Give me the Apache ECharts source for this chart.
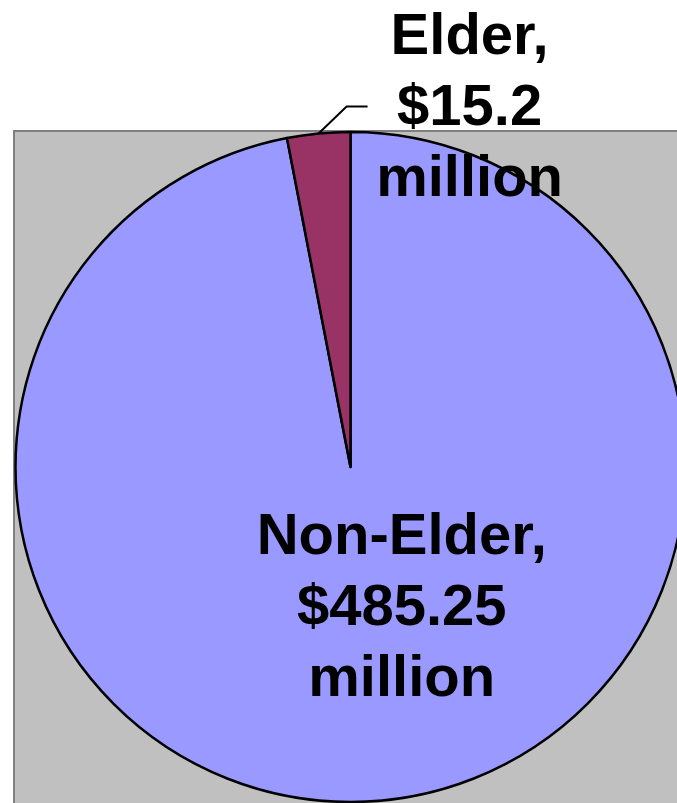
<!DOCTYPE html>
<html>
<head>
<meta charset="utf-8">
<title>Elder vs Non-Elder</title>
<script src="https://cdn.jsdelivr.net/npm/echarts@6/dist/echarts.min.js"></script>
<style>
  html, body { margin: 0; padding: 0; background: #ffffff; }
  #chart { width: 677px; height: 803px; }
</style>
</head>
<body>
<div id="chart"></div>
<script>
// Spending split, in millions of dollars
const categories = ['Non-Elder', 'Elder'];
const valuesMillions = [485.25, 15.2];
const sliceColors = ['#9999FF', '#993366'];

const pieData = categories.map(function (name, i) {
  return { name: name, value: valuesMillions[i], itemStyle: { color: sliceColors[i] } };
});

// Non-Elder sits inside its slice; Elder is pulled out with a leader line
pieData[0].label = { position: 'inside', offset: [35, -28] };
pieData[1].label = { position: 'outside' };
pieData[1].labelLine = { show: true };

const chart = echarts.init(document.getElementById('chart'), null, { renderer: 'canvas' });

chart.setOption({
  backgroundColor: '#ffffff',
  animation: false,
  graphic: {
    elements: [{
      type: 'rect',
      z: -10,
      shape: { x: 14, y: 131, width: 720, height: 720 },
      style: { fill: '#C0C0C0', stroke: '#808080', lineWidth: 2 },
      silent: true
    }]
  },
  series: [{
    type: 'pie',
    center: [350.5, 467],
    radius: [0, 335],
    startAngle: 90,
    clockwise: true,
    avoidLabelOverlap: false,
    itemStyle: { borderColor: '#000000', borderWidth: 2.5 },
    label: {
      show: true,
      formatter: function (p) { return p.name + ',\n$' + p.value + '\nmillion'; },
      fontFamily: 'Liberation Sans, Arial, sans-serif',
      fontWeight: 'bold',
      fontSize: 58,
      lineHeight: 71,
      color: '#000000',
      align: 'center'
    },
    labelLine: {
      show: false,
      lineStyle: { color: '#000000', width: 2 }
    },
    labelLayout: function (params) {
      if (params.dataIndex !== 1 || !params.labelLinePoints) return {};
      const p0 = params.labelLinePoints[0];
      const bend = [p0[0] + 28, p0[1] - 27];
      const end = [bend[0] + 21, bend[1]];
      return {
        x: end[0] + 102,
        y: end[1] + 2,
        align: 'center',
        verticalAlign: 'middle',
        labelLinePoints: [p0, bend, end]
      };
    },
    data: pieData
  }]
});
</script>
</body>
</html>
